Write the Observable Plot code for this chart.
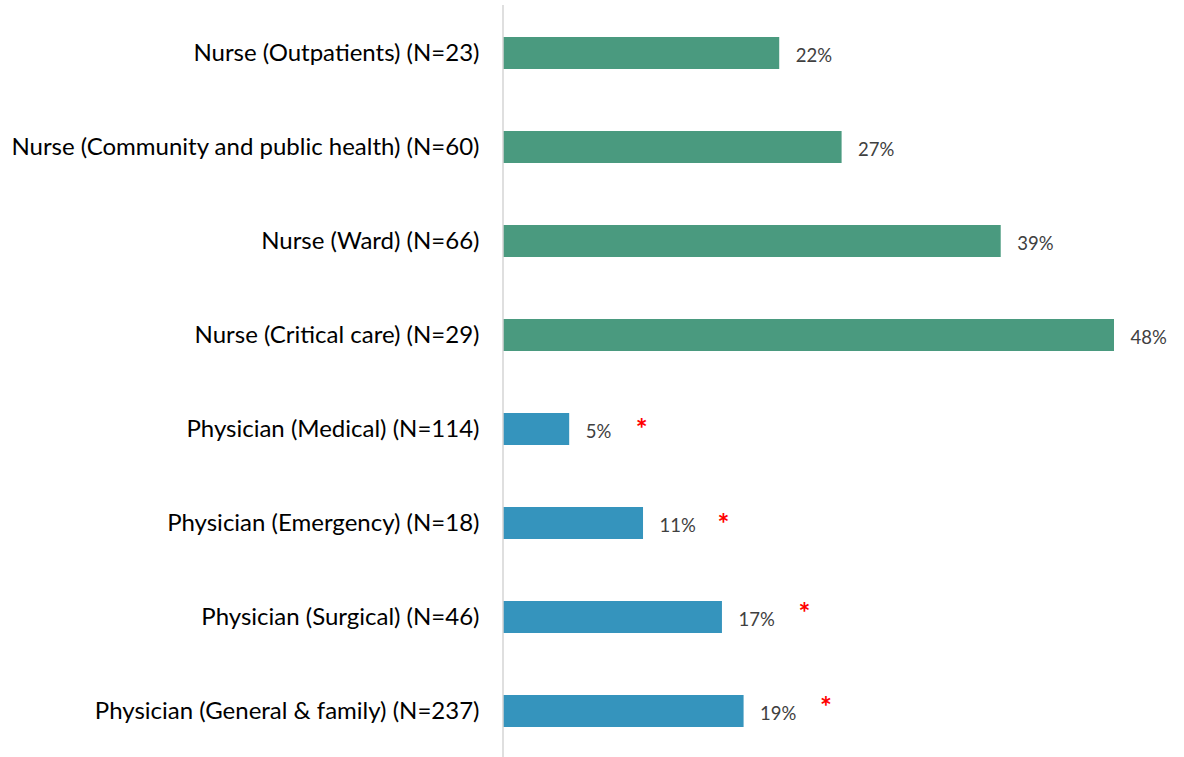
<!DOCTYPE html>
<html>
<head>
<meta charset="utf-8">
<script src="https://cdn.jsdelivr.net/npm/d3@7"></script>
<script src="https://cdn.jsdelivr.net/npm/@observablehq/plot@0.6"></script>
<style>
  html, body { margin: 0; padding: 0; background: #fff; }
  #chart svg { display: block; }
</style>
</head>
<body>
<div id="chart"></div>
<script>
const categories = [
  "Nurse (Outpatients) (N=23)",
  "Nurse (Community and public health) (N=60)",
  "Nurse (Ward) (N=66)",
  "Nurse (Critical care) (N=29)",
  "Physician (Medical) (N=114)",
  "Physician (Emergency) (N=18)",
  "Physician (Surgical) (N=46)",
  "Physician (General & family) (N=237)"
];
const values = [21.7, 26.6, 39.1, 48.0, 5.2, 11.0, 17.2, 18.9];
const valueLabels = ["22%", "27%", "39%", "48%", "5%", "11%", "17%", "19%"];
const groups = ["Nurse", "Nurse", "Nurse", "Nurse", "Physician", "Physician", "Physician", "Physician"];
const significant = [false, false, false, false, true, true, true, true];

const data = categories.map((c, i) => ({
  category: c, value: values[i], label: valueLabels[i], group: groups[i], sig: significant[i], idx: i
}));

const sigRows = data.filter(d => d.sig);
// asterisks sit slightly differently in the original annotation
const starStyle = { y: "category", x: "value", text: () => "*", textAnchor: "start", fontSize: 28, fontWeight: "bold", fill: "#ff0000" };
const starA = sigRows.filter(d => d.idx < 6);
const starB = sigRows.filter(d => d.idx >= 6);

const chart = Plot.plot({
  width: 1184,
  height: 757,
  marginLeft: 503,
  marginRight: 70,
  marginTop: 5,
  marginBottom: -2,
  style: { fontFamily: "Lato, 'Open Sans', sans-serif", background: "#fff" },
  x: { domain: [0, 48], axis: null },
  y: { domain: categories, paddingInner: 0.66, paddingOuter: 0.34, label: null },
  color: { domain: ["Nurse", "Physician"], range: ["#4a9a7f", "#3594bd"] },
  marks: [
    Plot.axisY({ tickSize: 0, tickPadding: 24, fontSize: 24, fill: "#000", label: null }),
    Plot.barX(data, { y: "category", x: "value", fill: "group" }),
    Plot.ruleX([0], { stroke: "#d4d4d4", strokeWidth: 1.5, dx: -0.5 }),
    Plot.text(data, { y: "category", x: "value", text: "label", textAnchor: "start", dx: 16, dy: 3, fontSize: 18.5, fill: "#404040" }),
    Plot.text(starA.filter(d => d.label.length < 3), { ...starStyle, dx: 66, dy: 1 }),
    Plot.text(starA.filter(d => d.label.length >= 3), { ...starStyle, dx: 74, dy: 1.5 }),
    Plot.text(starB, { ...starStyle, dx: 76, dy: -3.5 })
  ]
});
document.getElementById("chart").appendChild(chart);
</script>
</body>
</html>
